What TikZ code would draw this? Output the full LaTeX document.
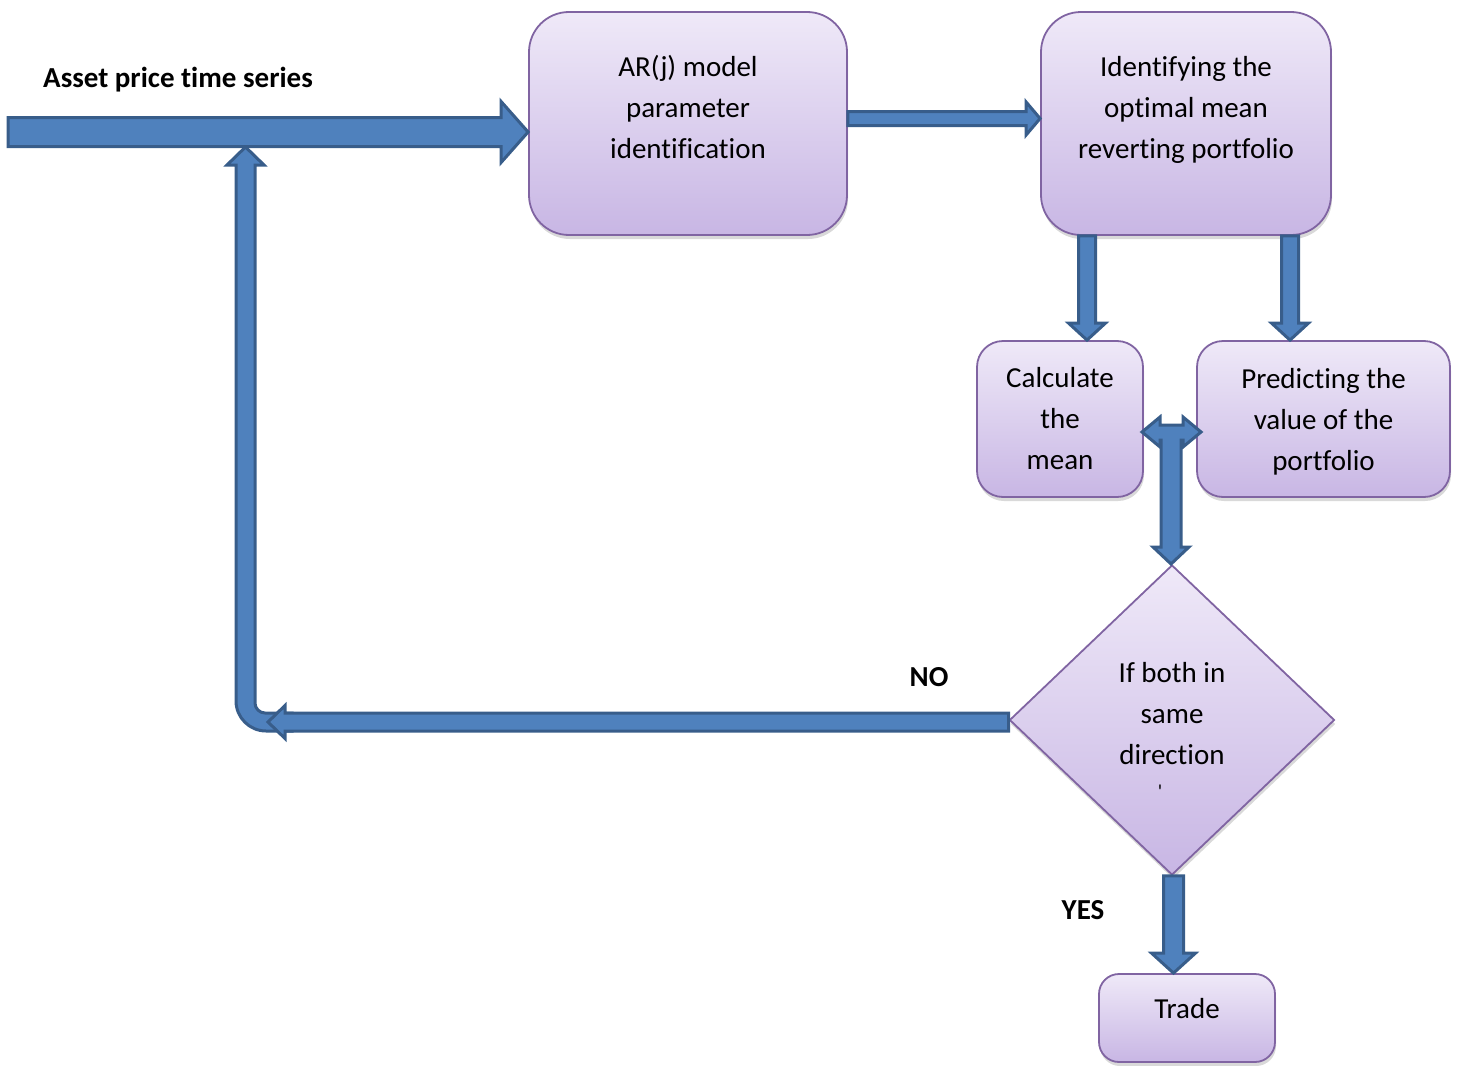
\documentclass[tikz,border=0pt]{standalone}
\usepackage{fontspec}
\setmainfont[Ligatures=NoCommon]{Carlito}
\usetikzlibrary{calc,shapes.geometric,shadows}
\definecolor{afill}{HTML}{4F81BD}
\definecolor{aline}{HTML}{385D8A}
\definecolor{bline}{HTML}{8064A2}
\definecolor{btop}{RGB}{239,233,248}
\definecolor{bbot}{RGB}{200,182,228}
\tikzset{
 box/.style={draw=bline, line width=1.8pt, top color=btop, bottom color=bbot,
   drop shadow={opacity=0.3,shadow xshift=1pt,shadow yshift=-4pt}, inner sep=0pt},
 bigbox/.style={box, rounded corners=40pt},
 midbox/.style={box, rounded corners=26pt},
 smallbox/.style={box, rounded corners=20pt},
 blockarrow/.style={draw=aline, fill=afill, line width=3pt, line join=miter},
 txt/.style={font=\fontsize{29}{41}\selectfont, align=center, inner sep=0pt},
 lbl/.style={font=\fontsize{29}{35}\selectfont\bfseries, inner sep=0pt},
}
\newcommand\blockR[5]{\draw[blockarrow] ($(#1)+(0,-#3)$) -- ($(#2)+(-#5,-#3)$) -- ($(#2)+(-#5,-#4)$) -- (#2) -- ($(#2)+(-#5,#4)$) -- ($(#2)+(-#5,#3)$) -- ($(#1)+(0,#3)$) -- cycle;}
\newcommand\blockL[5]{\draw[blockarrow] ($(#1)+(0,-#3)$) -- ($(#2)+(#5,-#3)$) -- ($(#2)+(#5,-#4)$) -- (#2) -- ($(#2)+(#5,#4)$) -- ($(#2)+(#5,#3)$) -- ($(#1)+(0,#3)$) -- cycle;}
\newcommand\blockD[5]{\draw[blockarrow] ($(#1)+(-#3,0)$) -- ($(#2)+(-#3,-#5)$) -- ($(#2)+(-#4,-#5)$) -- (#2) -- ($(#2)+(#4,-#5)$) -- ($(#2)+(#3,-#5)$) -- ($(#1)+(#3,0)$) -- cycle;}
\begin{document}
\begin{tikzpicture}[x=1pt,y=-1pt]
\useasboundingbox (0,0) rectangle (1461,1065);

% boxes
\node[bigbox, minimum width=318pt, minimum height=223pt] (ar) at (688,123.5) {};
\node[bigbox, minimum width=290pt, minimum height=223pt] (id) at (1186,123.5) {};
\node[midbox, minimum width=166pt, minimum height=156pt] (cm) at (1060,419) {};
\node[midbox, minimum width=253pt, minimum height=156pt] (pred) at (1323.5,419) {};
\node[box, diamond, minimum width=325pt, minimum height=310pt] (dia) at (1172,720) {};
\node[smallbox, minimum width=176pt, minimum height=88pt] (trade) at (1187,1018) {};

% texts
\node[txt] (arT) at (688,107) {AR(j) model\\parameter\\identification};
\node[txt] (idT) at (1186,110) {Identifying the\\optimal mean\\reverting portfolio};
\node[txt] (cmT) at (1060,419) {Calculate\\the\\mean};
\node[txt] (predT) at (1323.5,422) {Predicting the\\value of the\\portfolio};
\node[txt] (diaT) at (1172,714) {If both in\\same\\direction};
\node[font=\fontsize{20}{20}\selectfont, inner sep=0pt] (tick) at (1160,792) {\textquotesingle};
\node[txt] (tradeT) at (1187,1009) {Trade};
\node[lbl, anchor=west] (asset) at (43,80) {Asset price time series};
\node[lbl] (no) at (929,677) {NO};
\node[lbl] (yes) at (1083,910) {YES};

% return bent arrow
\draw[blockarrow] (292,713) -- (265,713) .. controls (259.5,713) and (255,708.5) .. (255,703)
  -- (255,165) -- (264,165) -- (245.5,147) -- (227,165) -- (236,165) -- (236,701)
  .. controls (236,717.5) and (249.5,731) .. (266,731) -- (292,731) -- cycle;

% input arrow
\coordinate (inT) at (8,132);
\coordinate (inH) at (ar.west |- inT);
\blockR{inT}{inH}{14.5}{30.5}{27}

% AR -> identify
\coordinate (m1) at (0,118.5);
\coordinate (a1) at (ar.east |- m1);
\coordinate (a2) at (id.west |- m1);
\blockR{a1}{a2}{7}{16.5}{14}

% identify -> calculate / predict
\coordinate (v1) at (1087,0);
\coordinate (d1a) at (v1 |- id.south);
\coordinate (d1b) at (v1 |- cm.north);
\blockD{d1a}{d1b}{8.5}{18.5}{17}
\coordinate (v2) at (1290,0);
\coordinate (d2a) at (v2 |- id.south);
\coordinate (d2b) at (v2 |- pred.north);
\blockD{d2a}{d2b}{8.5}{18.5}{17}

% T-shaped double arrow
\draw[blockarrow] (1142,432) -- (1160,417) -- (1160,425) -- (1183,425) -- (1183,417) -- (1201,432)
  -- (1183,447) -- (1183,440) -- (1181,440) -- (1181,547) -- (1189,547) -- (1171,564)
  -- (1153,547) -- (1161,547) -- (1161,440) -- (1160,440) -- (1160,447) -- cycle;

% diamond -> NO (left)
\coordinate (m2) at (0,722);
\coordinate (l1) at (dia.west |- m2);
\coordinate (l2) at (268,722);
\blockL{l1}{l2}{9}{16.5}{17}

% diamond -> trade
\coordinate (v3) at (1173.5,0);
\coordinate (t1) at (v3 |- dia.south);
\coordinate (t2) at (v3 |- trade.north);
\blockD{t1}{t2}{10}{22}{20}
\end{tikzpicture}
\end{document}
